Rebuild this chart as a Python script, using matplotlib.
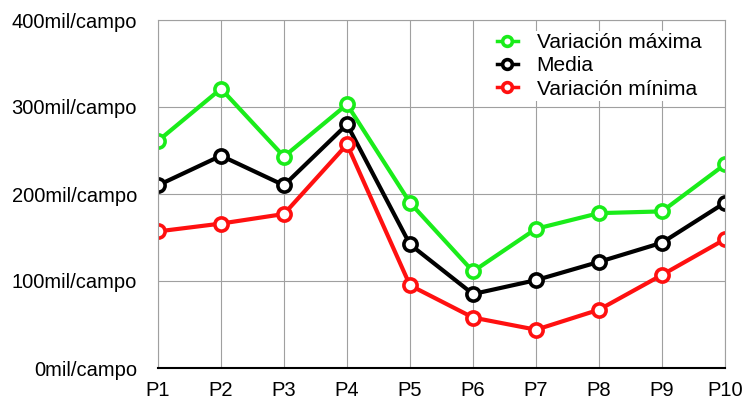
import matplotlib
matplotlib.use('Agg')
import matplotlib.pyplot as plt

plt.rcParams['font.family'] = ['Liberation Sans', 'DejaVu Sans']

puntos = ['P1', 'P2', 'P3', 'P4', 'P5', 'P6', 'P7', 'P8', 'P9', 'P10']
var_max = [261, 321, 243, 303, 190, 111, 160, 178, 180, 234]
media = [210, 244, 210, 280, 142, 85, 101, 122, 144, 190]
var_min = [157, 166, 177, 257, 95, 58, 44, 67, 107, 148]
yticks = [0, 100, 200, 300, 400]
ylabels = ['%dmil/campo' % v for v in yticks]

fig = plt.figure(figsize=(7.44, 4), dpi=100)
ax = fig.add_axes([158 / 744, 32 / 400, 567 / 744, 348 / 400])

x = range(len(puntos))
estilo = dict(lw=3, marker='o', ms=9.5, mew=2.6, mfc='white')
ax.plot(x, var_max, color='#1aec1a', label='Variación máxima', **estilo)
ax.plot(x, media, color='black', label='Media', **estilo)
ax.plot(x, var_min, color='#ff1010', label='Variación mínima', **estilo)

ax.set_xlim(0, len(puntos) - 1)
ax.set_ylim(0, 400)
ax.set_xticks(list(x))
ax.set_xticklabels(puntos, fontsize=14.5)
ax.set_yticks(yticks)
ax.set_yticklabels(ylabels, fontsize=14.5)
ax.tick_params(length=0)
ax.tick_params(axis='y', pad=15)
ax.tick_params(axis='x', pad=9)

ax.grid(True, color='#a0a0a0', lw=0.8)
ax.set_axisbelow(True)
for s in ['top', 'right', 'left']:
    ax.spines[s].set_color('#a0a0a0')
    ax.spines[s].set_linewidth(0.8)
ax.spines['bottom'].set_color('black')
ax.spines['bottom'].set_linewidth(1.5)

leg = ax.legend(loc='upper right', bbox_to_anchor=(0.98, 0.998), fontsize=15,
                handlelength=1.0, handletextpad=0.9, labelspacing=0.2,
                borderpad=0.1, fancybox=False, framealpha=1)
leg.get_frame().set_edgecolor('none')
for h in leg.legend_handles:
    h.set_markersize(7)
    h.set_linewidth(2.5)

fig.savefig('out.png', dpi=100)
